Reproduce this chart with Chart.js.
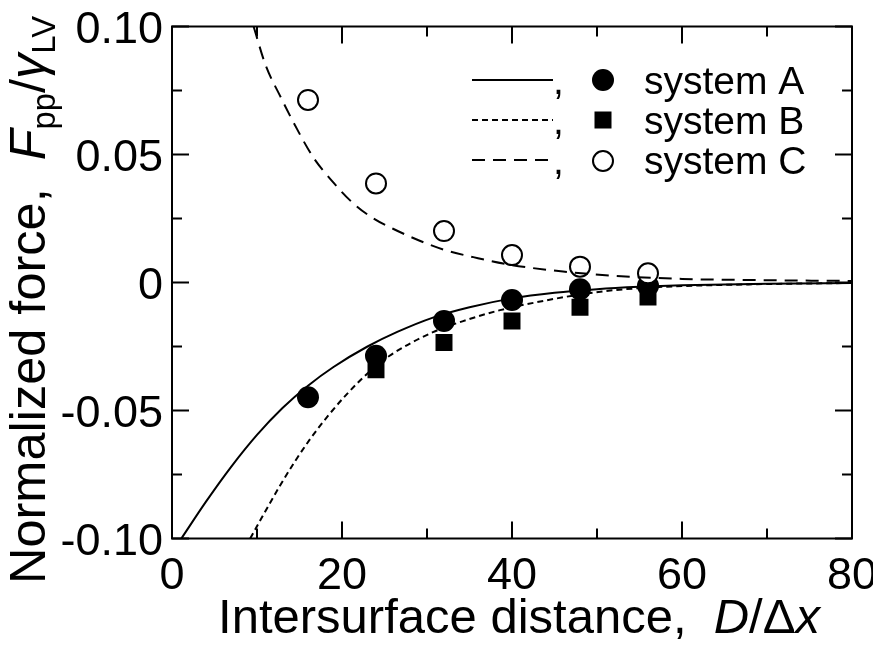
<!DOCTYPE html>
<html>
<head>
<meta charset="utf-8">
<script src="https://cdn.jsdelivr.net/npm/chart.js@4.4.1/dist/chart.umd.min.js"></script>
<style>
  html, body { margin: 0; padding: 0; background: #ffffff; }
  canvas { display: block; }
</style>
</head>
<body>
<canvas id="c" width="873" height="652"></canvas>
<script>
// ---------------- data ----------------
const markerX = [16, 24, 32, 40, 48, 56];
const systemA = [-0.0448, -0.0286, -0.0150, -0.0068, -0.0026, -0.0013];
const systemBX = [24, 32, 40, 48, 56];
const systemB = [-0.0341, -0.0234, -0.0150, -0.0097, -0.0057];
const systemC = [0.0713, 0.0387, 0.0201, 0.0107, 0.0062, 0.0036];

const curveAX = [1.1, 4, 7, 10, 13, 16, 19, 23, 26.5, 30.7, 35, 40, 45, 50, 55, 60, 70, 80];
const curveAY = [-0.100, -0.0856, -0.0718, -0.0595, -0.0490, -0.0403, -0.0330, -0.0250, -0.0193, -0.0137, -0.0097, -0.0062, -0.0040, -0.0026, -0.0017, -0.0011, -0.0005, -0.0002];

const curveBX = [9.2, 10.5, 12.7, 14.5, 16.2, 18.4, 20.6, 23.3, 25.6, 30.7, 34.7, 38.6, 44, 48, 52, 56, 60, 70, 80];
const curveBY = [-0.100, -0.0922, -0.0794, -0.0697, -0.0614, -0.0519, -0.0435, -0.0346, -0.0286, -0.0194, -0.0146, -0.0108, -0.0070, -0.0047, -0.0030, -0.0020, -0.0014, -0.0006, -0.0002];

const curveCX = [9.6, 11, 12.7, 14.7, 16.6, 19, 21.3, 23.7, 26, 29, 32, 36, 40, 46, 52, 60, 70, 80];
const curveCY = [0.100, 0.085, 0.073, 0.060, 0.049, 0.039, 0.031, 0.025, 0.021, 0.0165, 0.0128, 0.0095, 0.0068, 0.0043, 0.0026, 0.0014, 0.0009, 0.0006];

const xMajorTicks = [0, 20, 40, 60, 80];
const xTickLabels = ['0', '20', '40', '60', '80'];
const xMinorTicks = [10, 30, 50, 70];
const yMajorTicks = [-0.10, -0.05, 0, 0.05, 0.10];
const yTickLabels = ['-0.10', '-0.05', '0', '0.05', '0.10'];
const yMinorTicks = [-0.075, -0.025, 0.025, 0.075];

const legendLabels = ['system A', 'system B', 'system C'];
const xTitle = [{t: 'Intersurface distance,  '}, {t: 'D', i: true}, {t: '/'}, {t: '\u0394'}, {t: 'x', i: true}];
const yTitle = [{t: 'Normalized force,  '}, {t: 'F', i: true}, {t: 'pp', sub: true}, {t: '/'}, {t: '\u03B3', i: true}, {t: 'LV', sub: true}];

// ---------------- helpers ----------------
const pts = (xs, ys) => xs.map((x, k) => ({x: x, y: ys[k]}));
const FONT = "'Liberation Sans', Arial, sans-serif";

function segFont(s, size) {
  const sz = s.sub ? size * 0.65 : size;
  return (s.i ? 'italic ' : '') + sz + 'px ' + FONT;
}
function richWidth(ctx, segs, size) {
  let w = 0;
  segs.forEach(s => { ctx.font = segFont(s, size); w += ctx.measureText(s.t).width; });
  return w;
}
function drawRich(ctx, segs, size, cx, cy, rot) {
  ctx.save();
  ctx.translate(cx, cy);
  if (rot) ctx.rotate(rot);
  const w = richWidth(ctx, segs, size);
  let x = -w / 2;
  ctx.textAlign = 'left';
  ctx.textBaseline = 'alphabetic';
  segs.forEach(s => {
    ctx.font = segFont(s, size);
    ctx.fillText(s.t, x, s.sub ? size * 0.2 : 0);
    x += ctx.measureText(s.t).width;
  });
  ctx.restore();
}

const decorPlugin = {
  id: 'decor',
  afterDraw(chart) {
    const ctx = chart.ctx;
    const xs = chart.scales.x, ys = chart.scales.y;
    const L = xs.left, R = xs.right, T = ys.top, B = ys.bottom;
    ctx.save();
    ctx.strokeStyle = '#000';
    ctx.fillStyle = '#000';
    ctx.lineWidth = 2;
    ctx.setLineDash([]);
    // frame
    ctx.strokeRect(L, T, R - L, B - T);
    // ticks (inward, mirrored)
    const MAJ = 17, MIN = 10;
    ctx.beginPath();
    xMajorTicks.concat(xMinorTicks).forEach(v => {
      const len = xMajorTicks.includes(v) ? MAJ : MIN;
      const p = xs.getPixelForValue(v);
      ctx.moveTo(p, B); ctx.lineTo(p, B - len);
      ctx.moveTo(p, T); ctx.lineTo(p, T + len);
    });
    yMajorTicks.concat(yMinorTicks).forEach(v => {
      const len = yMajorTicks.includes(v) ? MAJ : MIN;
      const p = ys.getPixelForValue(v);
      ctx.moveTo(L, p); ctx.lineTo(L + len, p);
      ctx.moveTo(R, p); ctx.lineTo(R - len, p);
    });
    ctx.stroke();
    // tick labels
    ctx.font = '45px ' + FONT;
    ctx.textBaseline = 'alphabetic';
    ctx.textAlign = 'center';
    xMajorTicks.forEach((v, k) => ctx.fillText(xTickLabels[k], xs.getPixelForValue(v), B + 50));
    ctx.textAlign = 'right';
    yMajorTicks.forEach((v, k) => ctx.fillText(yTickLabels[k], L - 9, ys.getPixelForValue(v) + 16));
    // axis titles
    drawRich(ctx, xTitle, 49, 519, 633, 0);
    drawRich(ctx, yTitle, 50.5, 45, 300, -Math.PI / 2);
    // legend
    const rows = [80, 120, 160];
    const dashes = [[], [6, 4], [13, 8]];
    rows.forEach((ry, k) => {
      ctx.lineWidth = 2;
      ctx.setLineDash(dashes[k]);
      ctx.beginPath(); ctx.moveTo(472, ry); ctx.lineTo(553, ry); ctx.stroke();
      ctx.setLineDash([]);
      ctx.font = '39px ' + FONT;
      ctx.textAlign = 'left';
      ctx.fillText(',', 553, ry + 14);
      ctx.fillText(legendLabels[k], 644, ry + 14);
      const mx = 603;
      if (k === 0) { ctx.beginPath(); ctx.arc(mx, ry, 11, 0, Math.PI * 2); ctx.fill(); }
      if (k === 1) { ctx.fillRect(mx - 8.5, ry - 8.5, 17, 17); }
      if (k === 2) { ctx.beginPath(); ctx.arc(mx, ry + 1, 10, 0, Math.PI * 2); ctx.fillStyle = '#fff'; ctx.fill(); ctx.fillStyle = '#000'; ctx.stroke(); }
    });
    ctx.restore();
  }
};

new Chart(document.getElementById('c'), {
  type: 'scatter',
  data: {
    datasets: [
      {label: 'fit A', type: 'line', data: pts(curveAX, curveAY), borderColor: '#000', borderWidth: 2, pointRadius: 0, fill: false, cubicInterpolationMode: 'monotone', order: 0},
      {label: 'fit B', type: 'line', data: pts(curveBX, curveBY), borderColor: '#000', borderWidth: 2, borderDash: [6, 4], pointRadius: 0, fill: false, cubicInterpolationMode: 'monotone', order: 0},
      {label: 'fit C', type: 'line', data: pts(curveCX, curveCY), borderColor: '#000', borderWidth: 2, borderDash: [13, 8], pointRadius: 0, fill: false, cubicInterpolationMode: 'monotone', order: 0},
      {label: 'system C', data: pts(markerX, systemC), pointStyle: 'circle', pointRadius: 10, backgroundColor: '#fff', borderColor: '#000', borderWidth: 2, order: 1},
      {label: 'system A', data: pts(markerX, systemA), pointStyle: 'circle', pointRadius: 11, backgroundColor: '#000', borderColor: '#000', borderWidth: 0, order: 2},
      {label: 'system B', data: pts(systemBX, systemB), pointStyle: 'rect', pointRadius: 12, backgroundColor: '#000', borderColor: '#000', borderWidth: 0, order: 3}
    ]
  },
  options: {
    responsive: false,
    animation: false,
    devicePixelRatio: 1,
    layout: {padding: {left: 172, right: 21, top: 26.5, bottom: 113.5}},
    plugins: {legend: {display: false}, tooltip: {enabled: false}},
    scales: {
      x: {type: 'linear', min: 0, max: 80, display: false},
      y: {type: 'linear', min: -0.10, max: 0.10, display: false}
    }
  },
  plugins: [decorPlugin]
});
</script>
</body>
</html>
